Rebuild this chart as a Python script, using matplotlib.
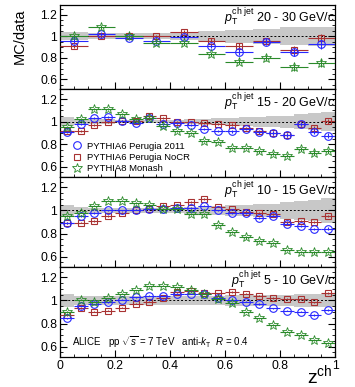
import numpy as np
import matplotlib
matplotlib.use('Agg')
import matplotlib.pyplot as plt
from matplotlib.ticker import MultipleLocator, FuncFormatter

plt.rcParams['font.family'] = ['Liberation Sans', 'DejaVu Sans']
plt.rcParams['mathtext.fontset'] = 'custom'
plt.rcParams['mathtext.rm'] = 'Liberation Sans'
plt.rcParams['mathtext.it'] = 'Liberation Sans:italic'

#%% datos: razones MC/data por intervalo de pT del jet
# panel 20 - 30 GeV/c (bins de 0.1)
z_20_30 = np.arange(0.05, 1.0, 0.1)
p11_20_30 = [0.96, 1.02, 0.98, 0.96, 0.995, 0.91, 0.855, 0.945, 0.85, 0.925]
nocr_20_30 = [0.91, 1.00, 1.00, 1.00, 1.04, 0.96, 0.91, 0.955, 0.87, 0.985]
mon_20_30 = [1.00, 1.085, 1.00, 0.94, 0.935, 0.835, 0.765, 0.80, 0.71, 0.75]
err_20_30 = [0.02, 0.015, 0.015, 0.015, 0.02, 0.02, 0.025, 0.03, 0.035, 0.04]
band_20_30 = [0.035, 0.03, 0.03, 0.03, 0.035, 0.045, 0.06, 0.07, 0.085, 0.09]

# panel 15 - 20 GeV/c (bins de 0.05)
z_15_20 = np.arange(0.025, 1.0, 0.05)
p11_15_20 = [0.909, 0.979, 1.032, 1.040, 1.009, 0.988, 1.032, 0.979, 0.988, 0.968,
             0.935, 0.915, 0.915, 0.935, 0.906, 0.900, 0.880, 0.979, 0.909, 0.877]
nocr_15_20 = [0.915, 0.915, 0.968, 0.997, 1.009, 1.009, 1.053, 1.032, 0.994, 0.997,
              0.988, 0.979, 0.974, 0.944, 0.915, 0.900, 0.880, 0.979, 0.944, 1.003]
mon_15_20 = [0.953, 1.023, 1.115, 1.115, 1.068, 1.023, 1.032, 0.965, 0.921, 0.900,
             0.827, 0.818, 0.768, 0.768, 0.739, 0.718, 0.700, 0.759, 0.724, 0.739]
err_15_20 = [0.01, 0.008, 0.008, 0.008, 0.008, 0.008, 0.008, 0.008, 0.01, 0.01,
             0.01, 0.01, 0.012, 0.012, 0.014, 0.015, 0.016, 0.02, 0.022, 0.02]
band_15_20 = [0.04, 0.02, 0.02, 0.02, 0.015, 0.015, 0.015, 0.015, 0.015, 0.02,
              0.025, 0.03, 0.035, 0.04, 0.045, 0.05, 0.055, 0.065, 0.075, 0.085]

# panel 10 - 15 GeV/c
z_10_15 = np.arange(0.025, 1.0, 0.05)
p11_10_15 = [0.894, 0.951, 0.977, 1.000, 1.000, 1.006, 1.009, 1.009, 1.023, 1.023,
             1.043, 1.000, 0.980, 0.977, 0.937, 0.951, 0.886, 0.866, 0.837, 0.843]
nocr_10_15 = [0.890, 0.894, 0.909, 0.951, 0.977, 1.006, 1.014, 1.043, 1.049, 1.071,
              1.100, 1.034, 1.009, 0.991, 0.977, 0.971, 0.900, 0.906, 0.900, 0.951]
mon_10_15 = [0.951, 0.980, 1.043, 1.086, 1.086, 1.066, 1.049, 1.014, 1.009, 0.971,
             0.971, 0.877, 0.814, 0.766, 0.734, 0.720, 0.657, 0.643, 0.637, 0.643]
err_10_15 = [0.008, 0.006, 0.006, 0.006, 0.006, 0.006, 0.006, 0.006, 0.007, 0.007,
             0.008, 0.008, 0.008, 0.009, 0.009, 0.01, 0.01, 0.01, 0.01, 0.01]
band_10_15 = [0.05, 0.03, 0.025, 0.02, 0.02, 0.02, 0.02, 0.02, 0.025, 0.03,
              0.035, 0.04, 0.045, 0.05, 0.055, 0.06, 0.07, 0.08, 0.09, 0.11]

# panel 5 - 10 GeV/c
z_5_10 = np.arange(0.025, 1.0, 0.05)
p11_5_10 = [0.846, 0.954, 0.968, 0.986, 1.006, 1.029, 1.043, 1.041, 1.060, 1.058,
            1.058, 1.020, 1.000, 0.991, 0.968, 0.933, 0.913, 0.904, 0.875, 0.919]
nocr_5_10 = [0.875, 0.935, 0.904, 0.913, 0.939, 0.971, 0.991, 1.020, 1.070, 1.078,
             1.064, 1.064, 1.072, 1.058, 1.043, 1.020, 1.014, 1.012, 0.983, 1.064]
mon_5_10 = [0.899, 1.006, 0.990, 1.020, 1.058, 1.087, 1.122, 1.128, 1.115, 1.093,
            1.058, 1.014, 0.977, 0.904, 0.846, 0.788, 0.730, 0.701, 0.658, 0.635]
err_5_10 = [0.006, 0.005, 0.005, 0.005, 0.005, 0.005, 0.005, 0.005, 0.005, 0.005,
            0.005, 0.005, 0.006, 0.006, 0.006, 0.006, 0.007, 0.007, 0.007, 0.008]
band_5_10 = [0.055, 0.04, 0.035, 0.035, 0.035, 0.035, 0.035, 0.035, 0.04, 0.04,
             0.04, 0.04, 0.045, 0.045, 0.045, 0.05, 0.05, 0.055, 0.06, 0.06]

etiquetas = ['20 - 30', '15 - 20', '10 - 15', '5 - 10']
paneles = [(z_20_30, 0.05, p11_20_30, nocr_20_30, mon_20_30, err_20_30, band_20_30),
           (z_15_20, 0.025, p11_15_20, nocr_15_20, mon_15_20, err_15_20, band_15_20),
           (z_10_15, 0.025, p11_10_15, nocr_10_15, mon_10_15, err_10_15, band_10_15),
           (z_5_10, 0.025, p11_5_10, nocr_5_10, mon_5_10, err_5_10, band_5_10)]

azul = '#2828ff'
rojo = '#a83232'
verde = '#2a8a2a'

#%% figura
fig = plt.figure(figsize=(3.55, 3.87), dpi=100)
gs = fig.add_gridspec(4, 1, left=60/355, right=335/355, top=1-5/387, bottom=1-357/387,
                      hspace=0, height_ratios=[84, 88, 90, 90])

for i, (z, hw, p11, nocr, mon, err, band) in enumerate(paneles):
    ax = fig.add_subplot(gs[i])
    band = np.array(band)
    # banda de incertidumbre sistematica (gris, escalonada)
    bordes = np.append(z - hw, z[-1] + hw)
    ax.stairs(1 + band, bordes, baseline=1 - band, fill=True, color='#c8c8c8', lw=0, zorder=1)
    ax.axhline(1, color='k', ls=(0, (2, 2)), lw=0.7, zorder=2)

    h_nocr = ax.errorbar(z, nocr, xerr=hw, yerr=err, fmt='s', ms=5, mfc='none', mec=rojo, mew=0.8,
                         ecolor=rojo, elinewidth=0.8, capsize=0, zorder=3)
    h_p11 = ax.errorbar(z, p11, xerr=hw, yerr=err, fmt='o', ms=5.5, mfc='none', mec=azul, mew=0.8,
                        ecolor=azul, elinewidth=0.8, capsize=0, zorder=4)
    h_mon = ax.errorbar(z, mon, xerr=hw, yerr=err, fmt='*', ms=7, mfc='none', mec=verde, mew=0.6,
                        ecolor=verde, elinewidth=0.8, capsize=0, zorder=5)

    ax.set_xlim(0, 1)
    ax.set_ylim(0.51, 1.29)
    ax.xaxis.set_major_locator(MultipleLocator(0.2))
    ax.xaxis.set_minor_locator(MultipleLocator(0.05))
    ax.yaxis.set_major_locator(MultipleLocator(0.2))
    ax.yaxis.set_minor_locator(MultipleLocator(0.05))
    ax.yaxis.set_major_formatter(FuncFormatter(lambda v, p: '%g' % round(v, 2)))
    ax.xaxis.set_major_formatter(FuncFormatter(lambda v, p: '%g' % round(v, 2)))
    ax.tick_params(which='both', direction='in', right=True, top=False, labelsize=8.8, pad=2)
    ax.tick_params(which='major', length=5)
    ax.tick_params(which='minor', length=2.5)
    if i < 3:
        ax.tick_params(labelbottom=False)
    for s in ax.spines.values():
        s.set_linewidth(0.9)

    ax.text(1.003, 0.80, r'$p_{\rm T}^{\rm ch\ jet}$ ' + etiquetas[i] + ' GeV/$c$',
            transform=ax.transAxes, ha='right', va='baseline', fontsize=9)

    if i == 1:
        # leyenda sin marco, solo marcadores
        hs = [h_p11[0], h_nocr[0], h_mon[0]]
        ax.legend(hs, ['PYTHIA6 Perugia 2011', 'PYTHIA6 Perugia NoCR', 'PYTHIA8 Monash'],
                  loc='lower left', bbox_to_anchor=(0.02, -0.035), frameon=False, fontsize=6.8,
                  handlelength=1.0, handletextpad=0.6, labelspacing=0.25, borderpad=0.2)
    if i == 3:
        ax.text(0.045, 0.605, r'ALICE   pp $\sqrt{s}$ = 7 TeV   anti-$k_{\rm T}$  $R$ = 0.4',
                ha='left', va='baseline', fontsize=7)

fig.text(20/355, 1-36/387, 'MC/data', rotation=90, ha='center', va='center', fontsize=10.5)
fig.text(307/355, 1-383/387, r'z$^{\rm ch}$', ha='left', va='baseline', fontsize=14)

fig.savefig('out.png', dpi=100)
